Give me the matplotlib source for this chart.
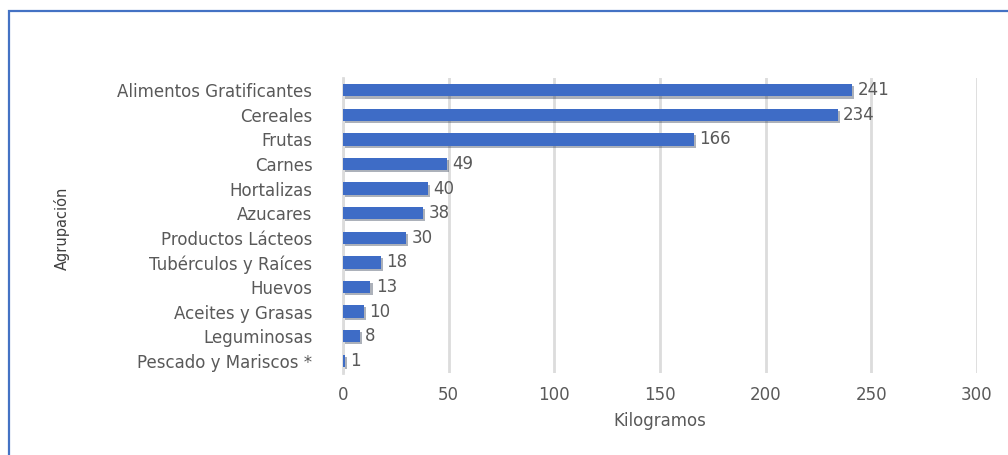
import matplotlib
matplotlib.use("Agg")
import matplotlib.pyplot as plt
import matplotlib.patheffects as pe
from matplotlib.patches import Rectangle

plt.rcParams["font.family"] = ["DejaVu Sans"]

categorias = ["Alimentos Gratificantes", "Cereales", "Frutas", "Carnes",
              "Hortalizas", "Azucares", "Productos Lácteos",
              "Tubérculos y Raíces", "Huevos", "Aceites y Grasas",
              "Leguminosas", "Pescado y Mariscos *"]
kilos = [241, 234, 166, 49, 40, 38, 30, 18, 13, 10, 8, 1]
ticks_x = [0, 50, 100, 150, 200, 250, 300]

GRIS = "#595959"
AZUL = "#3e6cc6"
FS = 12

fig = plt.figure(figsize=(10.08, 4.55), dpi=100)
fig.patches.append(Rectangle((9 / 1008, -0.1), 1.2, 1 - 11 / 455 + 0.1,
                             transform=fig.transFigure, fill=False,
                             edgecolor="#4472c4", linewidth=1.6))

ax = fig.add_axes([343 / 1008, 1 - 373 / 455, 634 / 1008, 295 / 455])
y = list(range(len(categorias)))
bars = ax.barh(y, kilos, height=0.5, color=AZUL, zorder=3)
for b in bars:
    b.set_path_effects([pe.SimplePatchShadow(offset=(1.5, -1.5), alpha=0.35),
                        pe.Normal()])

for yi, v in zip(y, kilos):
    ax.text(v + 2.5, yi, str(v), va="center", ha="left", fontsize=FS,
            color=GRIS)

ax.set_xlim(0, 300)
ax.set_ylim(len(categorias) - 0.5, -0.5)
ax.set_yticks(y)
ax.set_yticklabels(categorias, fontsize=FS, color=GRIS)
ax.set_xticks(ticks_x)
ax.set_xticklabels([str(t) for t in ticks_x], fontsize=FS, color=GRIS)
ax.tick_params(axis="both", length=0)
ax.tick_params(axis="y", pad=22)
ax.tick_params(axis="x", pad=9)
ax.grid(axis="x", color="#dcdcdc", linewidth=2, zorder=0)
for s in ["top", "right", "bottom"]:
    ax.spines[s].set_visible(False)
ax.spines["left"].set_color("#dcdcdc")
ax.spines["left"].set_linewidth(2)

ax.set_xlabel("Kilogramos", fontsize=FS, color=GRIS, labelpad=6)
fig.text(62 / 1008, 1 - 228 / 455, "Agrupación", rotation=90, fontsize=10.5,
         color="#404040", ha="center", va="center")

fig.savefig("out.png", dpi=100)
